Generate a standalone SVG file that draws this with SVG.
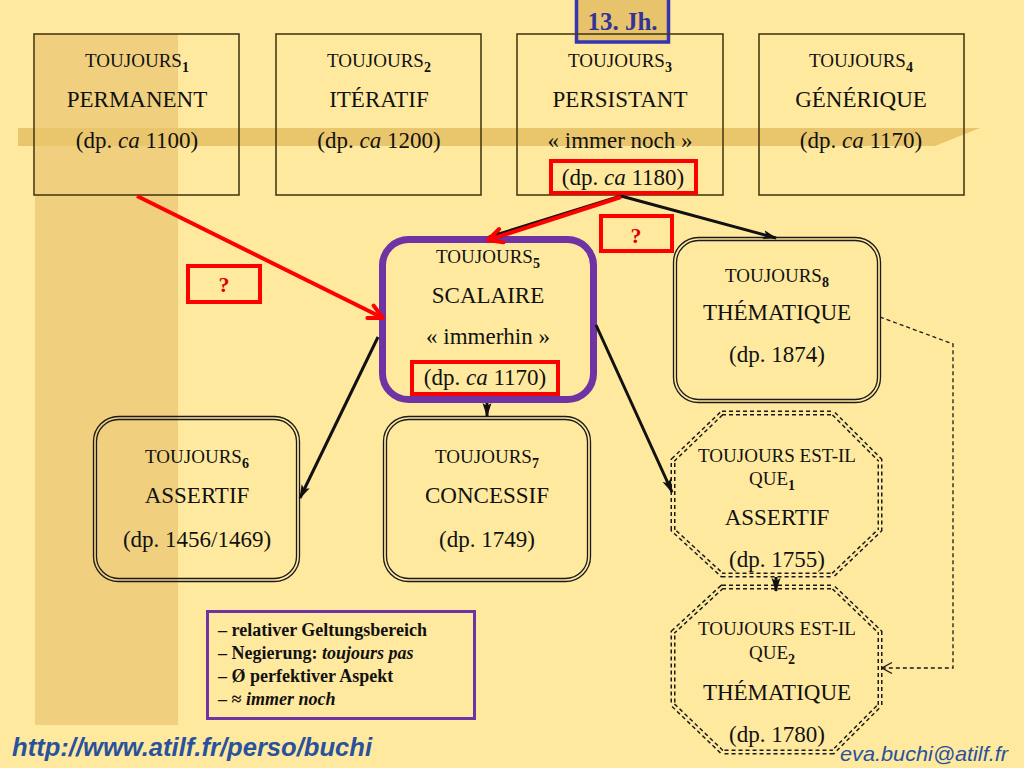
<svg xmlns="http://www.w3.org/2000/svg" width="1024" height="768" viewBox="0 0 1024 768">
<style>
.dummy{opacity:1}
.t{font-family:'Liberation Serif','Times New Roman',serif;fill:#111;text-anchor:middle}
.s19{font-size:19px}
.s23{font-size:23px}
.sub{font-size:14px;font-weight:bold}
.box{fill:none;stroke:#4a3c14;stroke-width:1.6}
.dbl{fill:none;stroke:#1a1a1a;stroke-width:1.3}
.red{fill:none;stroke:#f00;stroke-width:4}
.oct{fill:#ffe99e;stroke:#1a1a1a;stroke-width:5;stroke-dasharray:4 3}
.octin{fill:none;stroke:#ffe99e;stroke-width:2}
.blk{stroke:#111;stroke-width:3;fill:none}
.q{font-family:'Liberation Serif','Times New Roman',serif;font-size:22px;font-weight:bold;fill:#e00000;text-anchor:middle}
.leg{font-family:'Liberation Serif','Times New Roman',serif;font-size:18px;font-weight:bold;fill:#111}
.link{font-family:'Liberation Sans',Arial,sans-serif;font-style:italic;fill:#2a529c}
</style>
<defs>
<marker id="ab" markerUnits="userSpaceOnUse" markerWidth="14" markerHeight="10" viewBox="0 0 14 10" refX="13" refY="5" orient="auto">
<path d="M0,0.5 L14,5 L0,9.5 L3,5 z" fill="#111"/>
</marker>
<marker id="ar" markerUnits="userSpaceOnUse" markerWidth="22" markerHeight="22" viewBox="0 0 22 22" refX="19" refY="11" orient="auto">
<path d="M5,4 L19,11 L5,18" fill="none" stroke="#f00" stroke-width="4" stroke-linecap="round" stroke-linejoin="round"/>
</marker>
<marker id="ad" markerUnits="userSpaceOnUse" markerWidth="14" markerHeight="14" viewBox="0 0 14 14" refX="13" refY="7" orient="auto">
<path d="M3,1.5 L13,7 L3,12.5" fill="none" stroke="#1a1a1a" stroke-width="1.4"/>
</marker>
</defs>
<rect width="1024" height="768" fill="#ffe99e"/>
<rect x="35" y="34" width="143" height="691" fill="#f0d07e"/>
<path d="M18,128 L980,128 L935,146 L18,146 z" fill="#e9c66c"/>

<g id="n13jh">
<rect x="576.5" y="-2" width="92" height="44" fill="#e7c36c" stroke="#3535b0" stroke-width="3.5"/>
<text x="622.5" y="30" font-family="Liberation Serif, Times New Roman, serif" font-size="25" font-weight="bold" fill="#33339a" text-anchor="middle">13. Jh.</text>
</g>

<g font-family="Liberation Serif, Times New Roman, serif">
<g id="toujours1">
<rect class="box" x="34" y="34" width="205" height="161"/>
<text class="t s19" x="137" y="67">TOUJOURS<tspan class="sub" dy="5">1</tspan></text>
<text class="t s23" x="137" y="107">PERMANENT</text>
<text class="t s23" x="137" y="148">(dp. <tspan font-style="italic">ca</tspan> 1100)</text>
</g>
<g id="toujours2">
<rect class="box" x="276" y="34" width="205" height="161"/>
<text class="t s19" x="379" y="67">TOUJOURS<tspan class="sub" dy="5">2</tspan></text>
<text class="t s23" x="379" y="107">ITÉRATIF</text>
<text class="t s23" x="379" y="148">(dp. <tspan font-style="italic">ca</tspan> 1200)</text>
</g>
<g id="toujours3">
<rect class="box" x="517" y="34" width="206" height="161"/>
<text class="t s19" x="620" y="67">TOUJOURS<tspan class="sub" dy="5">3</tspan></text>
<text class="t s23" x="620" y="107">PERSISTANT</text>
<text class="t s23" x="620" y="148">« immer noch »</text>
<rect class="red" x="551" y="161" width="145" height="32" stroke-width="3.5"/>
<text class="t s23" x="623" y="185">(dp. <tspan font-style="italic">ca</tspan> 1180)</text>
</g>
<g id="toujours4">
<rect class="box" x="759" y="34" width="205" height="161"/>
<text class="t s19" x="861" y="67">TOUJOURS<tspan class="sub" dy="5">4</tspan></text>
<text class="t s23" x="861" y="107">GÉNÉRIQUE</text>
<text class="t s23" x="861" y="148">(dp. <tspan font-style="italic">ca</tspan> 1170)</text>
</g>

<g id="toujours5">
<rect x="382.5" y="239.5" width="211" height="160" rx="26" fill="none" stroke="#6f33a3" stroke-width="7"/>
<text class="t s19" x="488" y="263">TOUJOURS<tspan class="sub" dy="5">5</tspan></text>
<text class="t s23" x="488" y="303">SCALAIRE</text>
<text class="t s23" x="488" y="344">« immerhin »</text>
<rect class="red" x="412" y="362" width="146" height="32" stroke-width="3.5"/>
<text class="t s23" x="485" y="385">(dp. <tspan font-style="italic">ca</tspan> 1170)</text>
</g>

<g id="toujours6">
<rect class="dbl" x="93.5" y="416.5" width="206" height="165" rx="25"/>
<rect class="dbl" x="96.5" y="419.5" width="200" height="159" rx="22"/>
<text class="t s19" x="197" y="463">TOUJOURS<tspan class="sub" dy="5">6</tspan></text>
<text class="t s23" x="197" y="503">ASSERTIF</text>
<text class="t s23" x="197" y="547">(dp. 1456/1469)</text>
</g>
<g id="toujours7">
<rect class="dbl" x="383.5" y="416.5" width="207" height="165" rx="25"/>
<rect class="dbl" x="386.5" y="419.5" width="201" height="159" rx="22"/>
<text class="t s19" x="487" y="463">TOUJOURS<tspan class="sub" dy="5">7</tspan></text>
<text class="t s23" x="487" y="503">CONCESSIF</text>
<text class="t s23" x="487" y="547">(dp. 1749)</text>
</g>
<g id="toujours8">
<rect class="dbl" x="673.5" y="237.5" width="207" height="165" rx="25"/>
<rect class="dbl" x="676.5" y="240.5" width="201" height="159" rx="22"/>
<text class="t s19" x="777" y="282">TOUJOURS<tspan class="sub" dy="5">8</tspan></text>
<text class="t s23" x="777" y="320">THÉMATIQUE</text>
<text class="t s23" x="777" y="362">(dp. 1874)</text>
</g>

<g id="toujoursestilque1">
<polygon class="oct" points="722,413 833,413 880,460 880,530 833,575 722,575 673,530 673,460"/>
<polygon class="octin" points="722,413 833,413 880,460 880,530 833,575 722,575 673,530 673,460"/>
<text class="t s19" x="777" y="462">TOUJOURS EST-IL</text>
<text class="t s19" x="772" y="485">QUE<tspan class="sub" dy="5">1</tspan></text>
<text class="t s23" x="777" y="525">ASSERTIF</text>
<text class="t s23" x="777" y="567">(dp. 1755)</text>
</g>
<g id="toujoursestilque2">
<polygon class="oct" points="722,587 833,587 880,632 880,705 833,752 722,752 673,705 673,632"/>
<polygon class="octin" points="722,587 833,587 880,632 880,705 833,752 722,752 673,705 673,632"/>
<text class="t s19" x="777" y="635">TOUJOURS EST-IL</text>
<text class="t s19" x="772" y="659">QUE<tspan class="sub" dy="5">2</tspan></text>
<text class="t s23" x="777" y="700">THÉMATIQUE</text>
<text class="t s23" x="777" y="742">(dp. 1780)</text>
</g>

<g id="q1">
<rect class="red" x="188" y="266" width="72" height="36"/>
<text class="q" x="224" y="292">?</text>
</g>
<g id="q2">
<rect class="red" x="601" y="216" width="71" height="35"/>
<text class="q" x="636" y="243">?</text>
</g>

<g id="legend">
<rect x="207.5" y="611.5" width="267" height="107" fill="none" stroke="#6f33a3" stroke-width="3"/>
<text class="leg" x="218" y="636">– relativer Geltungsbereich</text>
<text class="leg" x="218" y="659">– Negierung: <tspan font-style="italic">toujours pas</tspan></text>
<text class="leg" x="218" y="682">– Ø perfektiver Aspekt</text>
<text class="leg" x="218" y="705">– ≈ <tspan font-style="italic">immer noch</tspan></text>
</g>
</g>

<g id="connectors">
<line class="blk" x1="621" y1="196" x2="489" y2="237" stroke-width="2.5" marker-end="url(#ab)"/>
<line class="blk" x1="621" y1="196" x2="776" y2="238" stroke-width="2.5" marker-end="url(#ab)"/>
<line class="red" x1="621" y1="197" x2="488" y2="240" marker-end="url(#ar)"/>
<line class="red" x1="137" y1="196" x2="383" y2="318" marker-end="url(#ar)"/>
<line class="blk" x1="378" y1="337" x2="300" y2="498" marker-end="url(#ab)"/>
<line class="blk" x1="596" y1="325" x2="672" y2="492" marker-end="url(#ab)"/>
<line class="blk" x1="487" y1="403" x2="487" y2="416" stroke-width="2" marker-end="url(#ab)"/>
<line class="blk" x1="776" y1="577" x2="776" y2="591" stroke-width="1.5" marker-end="url(#ab)"/>
<polyline points="880,317 953,344 953,668 882,668" fill="none" stroke="#1a1a1a" stroke-width="1.3" stroke-dasharray="4 3" marker-end="url(#ad)"/>
</g>

<text class="link" x="12" y="756" font-size="25" font-weight="bold" textLength="360" lengthAdjust="spacingAndGlyphs">http://www.atilf.fr/perso/buchi</text>
<text class="link" x="840" y="761" font-size="21" textLength="168" lengthAdjust="spacingAndGlyphs">eva.buchi@atilf.fr</text>
</svg>
